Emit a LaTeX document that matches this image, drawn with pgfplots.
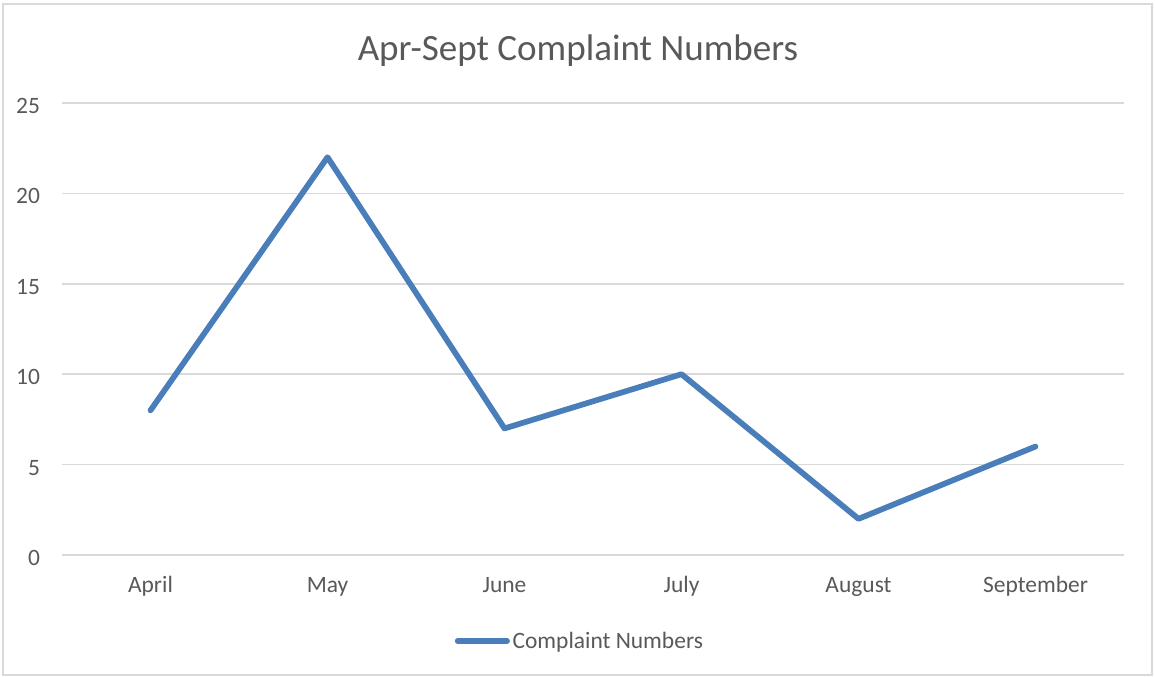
\documentclass[border=0pt]{standalone}
\usepackage{fontspec}
\setmainfont{Carlito}
\usepackage{pgfplots}
\pgfplotsset{compat=1.18}
\definecolor{txt}{HTML}{595959}
\definecolor{grd}{HTML}{D9D9D9}
\definecolor{ln}{HTML}{4A7EBB}
\begin{document}
\begin{tikzpicture}[x=0.75pt,y=0.75pt]
\path[use as bounding box] (0,0) rectangle (1155,677);
\draw[grd,line width=1.5pt] (3,2) rectangle (1152,673);
\node[txt,font=\fontsize{27.8}{32}\selectfont] at (578,626) {Apr-Sept Complaint Numbers};
\begin{axis}[
  at={(46.5pt,91.5pt)}, anchor=south west,
  scale only axis, width=796.5pt, height=339pt,
  xmin=-0.5, xmax=5.5, ymin=0, ymax=25,
  xtick={0,...,5}, xticklabels={April,May,June,July,August,September},
  ytick={0,5,...,25},
  /pgf/number format/assume math mode=true,
  ymajorgrids, major grid style={grd,line width=1.1pt},
  axis x line*=bottom, axis y line*=left,
  x axis line style={grd,line width=1.1pt,-},
  y axis line style={draw=none},
  tick style={draw=none},
  tick label style={txt,font=\fontsize{17.6}{20}\selectfont},
  xticklabel style={anchor=base,yshift=-28.5pt},
  yticklabel style={anchor=east,xshift=-13pt,yshift=-2.3pt},
  legend style={draw=none,fill=none,at={(0.488,-0.19)},anchor=center,
    legend columns=1,font=\fontsize{17.6}{20}\selectfont,text=txt,
    inner sep=0pt, nodes={inner xsep=2pt}},
  legend image code/.code={\draw[#1,line cap=round] (0pt,0pt) -- (37pt,0pt);},
  legend cell align=left,
  clip=false,
]
\addplot[ln,line width=4.3pt,line join=round,line cap=round] coordinates {
(0,8) (1,22) (2,7) (3,10) (4,2) (5,6)};
\addlegendentry{Complaint Numbers}
\end{axis}
\end{tikzpicture}
\end{document}
